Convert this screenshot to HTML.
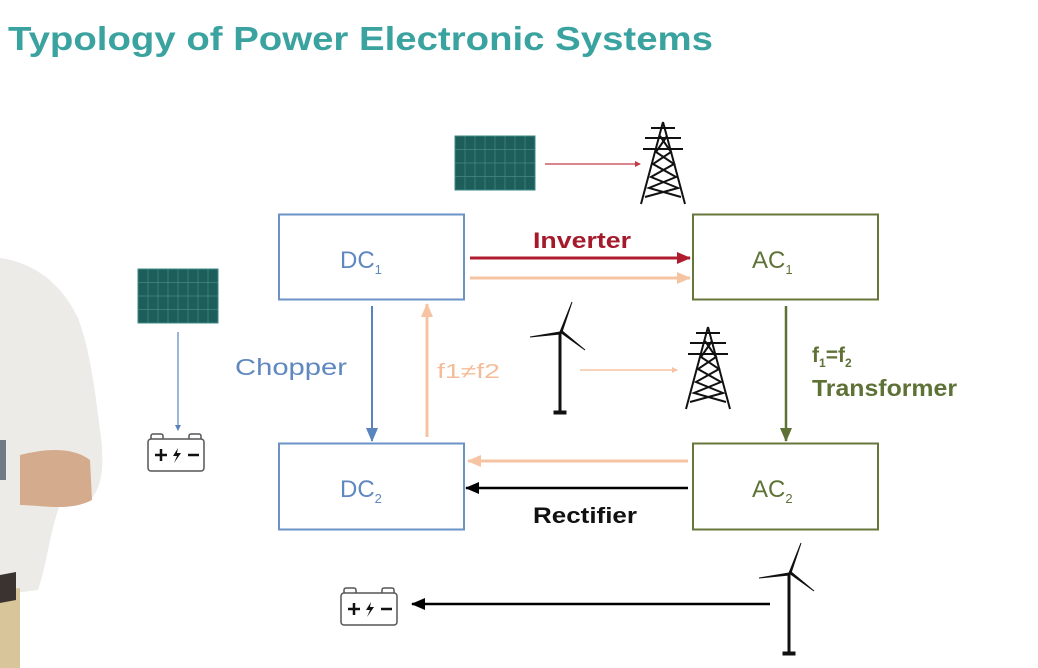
<!DOCTYPE html>
<html><head><meta charset="utf-8"><style>
html,body{margin:0;padding:0;background:#fff;width:1038px;height:668px;overflow:hidden}
svg{display:block}
text{font-family:"Liberation Sans",sans-serif}
</style></head><body>
<svg width="1038" height="668" viewBox="0 0 1038 668" xmlns="http://www.w3.org/2000/svg">
<defs>
<marker id="mrs" markerWidth="6" markerHeight="6" refX="5" refY="3" orient="auto" markerUnits="userSpaceOnUse"><path d="M0,0L6,3L0,6z" fill="#c43a48"/></marker>
<marker id="mp" markerWidth="14" markerHeight="12" refX="13" refY="6" orient="auto" markerUnits="userSpaceOnUse"><path d="M0,0L14,6L0,12z" fill="#f6c4a3"/></marker>
<marker id="mps" markerWidth="6" markerHeight="6" refX="5" refY="3" orient="auto" markerUnits="userSpaceOnUse"><path d="M0,0L6,3L0,6z" fill="#f6c4a3"/></marker>
<marker id="mR" markerWidth="14" markerHeight="12" refX="13" refY="6" orient="auto" markerUnits="userSpaceOnUse"><path d="M0,0L14,6L0,12z" fill="#b01c2e"/></marker>
<marker id="mb" markerWidth="14" markerHeight="12" refX="13" refY="6" orient="auto" markerUnits="userSpaceOnUse"><path d="M0,0L14,6L0,12z" fill="#5a84bd"/></marker>
<marker id="mbs" markerWidth="6" markerHeight="6" refX="5" refY="3" orient="auto" markerUnits="userSpaceOnUse"><path d="M0,0L6,3L0,6z" fill="#5a84bd"/></marker>
<marker id="mo" markerWidth="14" markerHeight="12" refX="13" refY="6" orient="auto" markerUnits="userSpaceOnUse"><path d="M0,0L14,6L0,12z" fill="#5e7236"/></marker>
<marker id="mk" markerWidth="14" markerHeight="12" refX="13" refY="6" orient="auto" markerUnits="userSpaceOnUse"><path d="M0,0L14,6L0,12z" fill="#000"/></marker>
<g id="panel">
<rect x="0" y="0" width="80" height="54" fill="#1d5e5a" stroke="#3c8a84" stroke-width="1"/>
<g stroke="#4f9590" stroke-width="0.7" opacity="0.8">
<line x1="10" y1="0" x2="10" y2="54"/><line x1="20" y1="0" x2="20" y2="54"/><line x1="30" y1="0" x2="30" y2="54"/><line x1="40" y1="0" x2="40" y2="54"/><line x1="50" y1="0" x2="50" y2="54"/><line x1="60" y1="0" x2="60" y2="54"/><line x1="70" y1="0" x2="70" y2="54"/>
<line x1="0" y1="13.5" x2="80" y2="13.5"/><line x1="0" y1="27" x2="80" y2="27"/><line x1="0" y1="40.5" x2="80" y2="40.5"/>
</g></g>
<g id="tower" stroke="#111" stroke-width="2" fill="none">
<path d="M22,0 L0,82 M22,0 L44,82"/>
<path d="M10,6 L34,6 M4,16 L40,16 M2,27 L42,27"/>
<path d="M19,14 L30,30 L12,42 L35,55 L8,66 L40,75"/>
<path d="M26,14 L15,30 L33,42 L10,55 L37,66 L4,75"/>
</g>
<g id="turbine" stroke="#111" fill="#111">
<line x1="30" y1="30" x2="30" y2="110" stroke-width="3"/>
<rect x="24" y="109" width="12" height="3"/>
<path d="M30,30 L42,0 L32,30z" stroke-width="1"/>
<path d="M30,30 L0,35 L30,32z" stroke-width="1"/>
<path d="M30,30 L55,48 L31,28z" stroke-width="1"/>
</g>
<g id="batt">
<rect x="3" y="0" width="12" height="6" rx="2" fill="#fff" stroke="#555" stroke-width="1.5"/>
<rect x="41" y="0" width="12" height="6" rx="2" fill="#fff" stroke="#555" stroke-width="1.5"/>
<rect x="0" y="5" width="56" height="32" rx="3" fill="#fff" stroke="#555" stroke-width="1.5"/>
<path d="M7,21 h12 M13,15 v12 M40,21 h11" stroke="#111" stroke-width="2.5"/>
<path d="M30,14 L25,22 L29,22 L26,29 L33,19 L29,19z" fill="#111"/>
</g>
</defs>

<!-- person -->
<path d="M0,258 C30,262 60,280 78,318 C90,350 95,390 100,430 C106,470 100,490 90,500 L60,505 C50,530 48,560 38,590 L0,595 Z" fill="#ecebe8"/>
<path d="M20,455 C40,450 70,445 90,460 L92,500 C70,512 40,505 20,505 Z" fill="#d5ab8d"/>
<path d="M0,590 L20,588 L20,668 L0,668 Z" fill="#d9c59a"/>
<path d="M0,575 L16,572 L16,600 L0,603 Z" fill="#3b3330"/>
<rect x="0" y="440" width="6" height="40" fill="#6f7a86"/>

<text x="8" y="50" font-size="33" font-weight="bold" fill="#3aa3a0" textLength="705" lengthAdjust="spacingAndGlyphs">Typology of Power Electronic Systems</text>

<!-- boxes -->
<rect x="279" y="214.5" width="185" height="85" fill="#fff" stroke="#6b93c8" stroke-width="2"/>
<rect x="279" y="443.5" width="185" height="86" fill="#fff" stroke="#6b93c8" stroke-width="2"/>
<rect x="693" y="214.5" width="185" height="85" fill="#fff" stroke="#67773c" stroke-width="2"/>
<rect x="693" y="443.5" width="185" height="86" fill="#fff" stroke="#67773c" stroke-width="2"/>
<text x="340" y="268" font-size="24" fill="#5f87c0">DC<tspan font-size="13" dy="6">1</tspan></text>
<text x="340" y="497" font-size="24" fill="#5f87c0">DC<tspan font-size="13" dy="6">2</tspan></text>
<text x="752" y="268" font-size="24" fill="#5e7236">AC<tspan font-size="13" dy="6">1</tspan></text>
<text x="752" y="497" font-size="24" fill="#5e7236">AC<tspan font-size="13" dy="6">2</tspan></text>

<!-- arrows -->
<line x1="470" y1="258" x2="690" y2="258" stroke="#b01c2e" stroke-width="3" marker-end="url(#mR)"/>
<text x="533" y="248" font-size="22" font-weight="bold" fill="#a51a2b" textLength="98" lengthAdjust="spacingAndGlyphs">Inverter</text>
<line x1="470" y1="278" x2="690" y2="278" stroke="#f6c4a3" stroke-width="3" marker-end="url(#mp)"/>
<line x1="372" y1="306" x2="372" y2="441" stroke="#5a84bd" stroke-width="2" marker-end="url(#mb)"/>
<text x="235" y="375" font-size="23" fill="#5f87c0" textLength="112" lengthAdjust="spacingAndGlyphs">Chopper</text>
<line x1="427" y1="437" x2="427" y2="304" stroke="#f6c4a3" stroke-width="3" marker-end="url(#mp)"/>
<text x="437" y="378" font-size="20" fill="#f4bd9a" textLength="63" lengthAdjust="spacingAndGlyphs">f1≠f2</text>
<line x1="786" y1="306" x2="786" y2="441" stroke="#5e7236" stroke-width="2.5" marker-end="url(#mo)"/>
<text x="812" y="362" font-size="21" font-weight="bold" fill="#5e7236">f<tspan font-size="12" dy="5">1</tspan><tspan dy="-5">=f</tspan><tspan font-size="12" dy="5">2</tspan></text>
<text x="812" y="396" font-size="23" font-weight="bold" fill="#5e7236" textLength="145" lengthAdjust="spacingAndGlyphs">Transformer</text>
<line x1="688" y1="461" x2="468" y2="461" stroke="#f6c4a3" stroke-width="3" marker-end="url(#mp)"/>
<line x1="688" y1="488" x2="466" y2="488" stroke="#000" stroke-width="2.5" marker-end="url(#mk)"/>
<text x="533" y="523" font-size="22" font-weight="bold" fill="#111" textLength="104" lengthAdjust="spacingAndGlyphs">Rectifier</text>
<line x1="770" y1="604" x2="412" y2="604" stroke="#000" stroke-width="2.5" marker-end="url(#mk)"/>

<line x1="545" y1="164" x2="640" y2="164" stroke="#c43a48" stroke-width="1.2" marker-end="url(#mrs)"/>
<line x1="580" y1="370" x2="677" y2="370" stroke="#f6c4a3" stroke-width="1.5" marker-end="url(#mps)"/>
<line x1="178" y1="332" x2="178" y2="430" stroke="#5a84bd" stroke-width="1.2" marker-end="url(#mbs)"/>

<!-- icons -->
<use href="#panel" x="455" y="136"/>
<use href="#panel" x="138" y="269"/>
<use href="#tower" x="641" y="122"/>
<use href="#tower" x="686" y="327"/>
<use href="#turbine" x="530" y="302"/>
<use href="#turbine" x="759" y="543"/>
<use href="#batt" x="148" y="434"/>
<use href="#batt" x="341" y="588"/>
</svg>
</body></html>
